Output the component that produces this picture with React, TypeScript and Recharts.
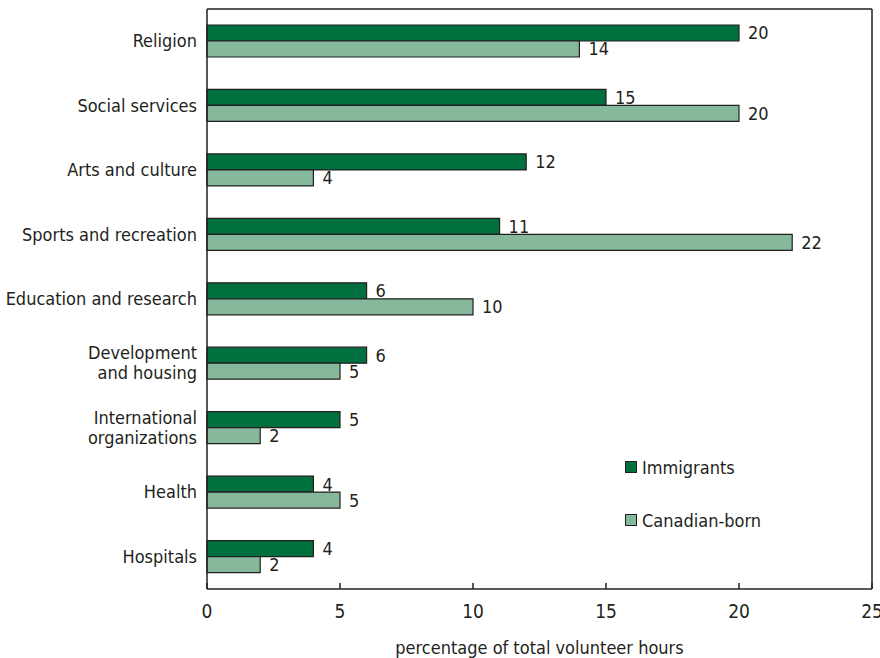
import React from 'react'
import { BarChart, Bar, XAxis, YAxis, LabelList, Legend, CartesianGrid } from 'recharts'

const categories = [
  'Religion',
  'Social services',
  'Arts and culture',
  'Sports and recreation',
  'Education and research',
  'Development\nand housing',
  'International\norganizations',
  'Health',
  'Hospitals',
]
const immigrants = [20, 15, 12, 11, 6, 6, 5, 4, 4]
const canadianBorn = [14, 20, 4, 22, 10, 5, 2, 5, 2]
const xTicks = [0, 5, 10, 15, 20, 25]

const data = categories.map((name, i) => ({
  name,
  immigrants: immigrants[i],
  canadian: canadianBorn[i],
}))

const FONT = '"Liberation Sans Narrow", "DejaVu Sans Condensed", "Open Sans", sans-serif'
const DARK = '#00703f'
const LIGHT = '#86b89c'
const INK = '#231f20'

const CategoryTick = (props: any) => {
  const { x, y, payload } = props
  const lines = String(payload.value).split('\n')
  const lh = 20
  const start = -((lines.length - 1) * lh) / 2
  return (
    <text x={x} y={y} textAnchor="end" fill={INK} fontSize={18} fontFamily={FONT}>
      {lines.map((l, i) => (
        <tspan key={i} x={x} dy={i === 0 ? start + 6 : lh}>
          {l}
        </tspan>
      ))}
    </text>
  )
}

const ValueTick = (props: any) => {
  const { x, y, payload } = props
  return (
    <g>
      <line x1={x} y1={y} x2={x} y2={y - 6} stroke={INK} strokeWidth={1.5} />
      <text x={x} y={y + 29} textAnchor="middle" fill={INK} fontSize={19} fontFamily={FONT}>
        {payload.value}
      </text>
    </g>
  )
}

const renderLegend = () => {
  const items = [
    { label: 'Immigrants', color: DARK },
    { label: 'Canadian-born', color: LIGHT },
  ]
  return (
    <div style={{ fontFamily: FONT, fontSize: 18, color: INK }}>
      {items.map((it) => (
        <div key={it.label} style={{ display: 'flex', alignItems: 'center', height: 24, marginBottom: 29 }}>
          <span
            style={{
              display: 'inline-block',
              width: 10,
              height: 10,
              background: it.color,
              border: `1px solid ${INK}`,
              marginRight: 5,
            }}
          />
          {it.label}
        </div>
      ))}
    </div>
  )
}

const App = () => {
  return (
    <div style={{ position: 'absolute', left: 0, top: 0, width: 880, height: 658, background: '#fff' }}>
      <BarChart
        width={880}
        height={658}
        data={data}
        layout="vertical"
        margin={{ top: 9, right: 8, bottom: 0, left: 0 }}
        barGap={0}
        barSize={16}
      >
        <CartesianGrid
          stroke={INK}
          strokeWidth={1.5}
          horizontalCoordinatesGenerator={({ offset }: any) => [offset.top]}
          verticalCoordinatesGenerator={({ offset }: any) => [offset.left + offset.width]}
        />
        <XAxis
          type="number"
          domain={[0, 25]}
          ticks={xTicks}
          tickLine={false}
          tickSize={0}
          tickMargin={0}
          tick={<ValueTick />}
          axisLine={{ stroke: INK, strokeWidth: 1.5 }}
          height={69}
          label={{
            value: 'percentage of total volunteer hours',
            position: 'insideBottom',
            offset: 4,
            fill: INK,
            fontSize: 18,
            fontFamily: FONT,
          }}
        />
        <YAxis
          type="category"
          dataKey="name"
          width={207}
          tickLine={false}
          tickSize={0}
          tickMargin={10}
          tick={<CategoryTick />}
          axisLine={{ stroke: INK, strokeWidth: 1.5 }}
          interval={0}
        />
        <Legend
          layout="vertical"
          verticalAlign="middle"
          align="center"
          content={renderLegend}
          wrapperStyle={{ left: 625, top: 455, width: 200 }}
        />
        <Bar dataKey="immigrants" name="Immigrants" fill={DARK} stroke={INK} strokeWidth={1.2} isAnimationActive={false}>
          <LabelList dataKey="immigrants" position="right" offset={9} fill={INK} fontSize={18} fontFamily={FONT} />
        </Bar>
        <Bar dataKey="canadian" name="Canadian-born" fill={LIGHT} stroke={INK} strokeWidth={1.2} isAnimationActive={false}>
          <LabelList dataKey="canadian" position="right" offset={9} fill={INK} fontSize={18} fontFamily={FONT} />
        </Bar>
      </BarChart>
    </div>
  )
}

export default App
